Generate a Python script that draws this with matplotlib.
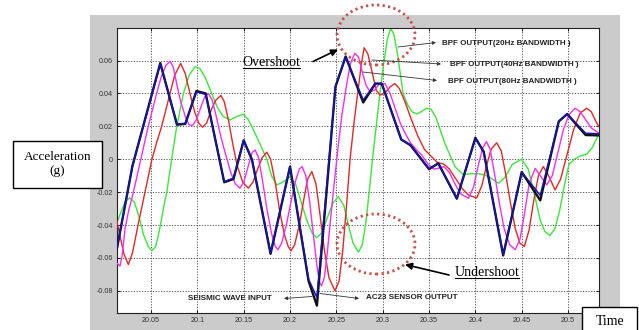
import matplotlib
matplotlib.use("Agg")
import matplotlib.pyplot as plt
from matplotlib.patches import Rectangle, Ellipse, FancyArrowPatch
from matplotlib.lines import Line2D

# ---------------- data ----------------
# seismic wave input and AC23 sensor output (sampled, piecewise linear)
t_input = [20.013, 20.03, 20.06, 20.078, 20.087, 20.099, 20.109, 20.129, 20.139,
           20.150, 20.159, 20.179, 20.200, 20.220, 20.229, 20.249, 20.260, 20.279,
           20.292, 20.299, 20.320, 20.330, 20.350, 20.360, 20.380, 20.400, 20.409,
           20.430, 20.450, 20.470, 20.490, 20.499, 20.519, 20.533]
seismic_input = [-0.055, -0.004, 0.0585, 0.021, 0.0215, 0.0415, 0.040, -0.014, -0.012,
                 0.0115, -0.0004, -0.0575, -0.0045, -0.074, -0.089, 0.044, 0.0625, 0.0345,
                 0.046, 0.046, 0.012, 0.0085, -0.006, -0.0025, -0.024, 0.013, 0.0045,
                 -0.0585, -0.0078, -0.025, 0.023, 0.0275, 0.0147, 0.0145]
ac23_output = [-0.055, -0.004, 0.058, 0.0214, 0.0218, 0.041, 0.0394, -0.0136, -0.0115,
               0.0113, -0.0004, -0.057, -0.0045, -0.073, -0.084, 0.044, 0.062, 0.036,
               0.046, 0.046, 0.012, 0.0087, -0.006, -0.0024, -0.0236, 0.0127, 0.0046,
               -0.058, -0.0078, -0.022, 0.023, 0.0275, 0.0158, 0.0155]

# band-pass filter output, 80 Hz bandwidth
t_bpf80 = [20.013, 20.0165, 20.019, 20.022, 20.026, 20.031, 20.035, 20.039, 20.043, 20.047,
           20.052, 20.056, 20.061, 20.066, 20.0705, 20.074, 20.078, 20.082, 20.087, 20.091,
           20.0946, 20.099, 20.104, 20.108, 20.112, 20.116, 20.120, 20.124, 20.128, 20.132,
           20.136, 20.141, 20.146, 20.150, 20.155, 20.159, 20.1624, 20.166, 20.170, 20.175,
           20.180, 20.184, 20.187, 20.191, 20.196, 20.201, 20.206, 20.210, 20.213, 20.217,
           20.221, 20.225, 20.229, 20.232, 20.234, 20.237, 20.240, 20.244, 20.248, 20.252,
           20.256, 20.261, 20.265, 20.270, 20.274, 20.278, 20.282, 20.2865, 20.291, 20.296,
           20.3025, 20.308, 20.314, 20.319, 20.324, 20.330, 20.336, 20.342, 20.349, 20.355,
           20.360, 20.366, 20.372, 20.378, 20.384, 20.3926, 20.398, 20.403, 20.408, 20.412,
           20.416, 20.421, 20.426, 20.431, 20.437, 20.443, 20.448, 20.453, 20.458, 20.4645,
           20.470, 20.477, 20.483, 20.489, 20.495, 20.501, 20.5075, 20.513, 20.519, 20.525,
           20.533]
bpf80 = [-0.063, -0.065, -0.058, -0.042, -0.031, -0.020, -0.010, 0.000, 0.010, 0.020,
         0.031, 0.040, 0.050, 0.057, 0.0596, 0.056, 0.045, 0.035, 0.026, 0.021,
         0.0204, 0.024, 0.032, 0.038, 0.040, 0.036, 0.027, 0.017, 0.008, 0.000,
         -0.008, -0.015, -0.0176, -0.014, -0.004, 0.004, 0.0056, 0.001, -0.012, -0.030,
         -0.045, -0.053, -0.055, -0.051, -0.040, -0.026, -0.013, -0.006, -0.0045, -0.010,
         -0.025, -0.045, -0.065, -0.075, -0.077, -0.072, -0.058, -0.035, -0.013, 0.008,
         0.027, 0.045, 0.058, 0.0645, 0.062, 0.053, 0.045, 0.041, 0.042, 0.0455,
         0.046, 0.040, 0.030, 0.022, 0.016, 0.010, 0.006, 0.0026, -0.003, -0.006,
         -0.0055, -0.0045, -0.008, -0.015, -0.021, -0.0237, -0.017, -0.004, 0.007, 0.0107,
         0.006, -0.010, -0.027, -0.042, -0.052, -0.055, -0.049, -0.033, -0.015, -0.0055,
         -0.010, -0.0156, -0.010, 0.004, 0.018, 0.027, 0.031, 0.029, 0.024, 0.019,
         0.016]

# band-pass filter output, 40 Hz bandwidth
t_bpf40 = [20.013, 20.017, 20.021, 20.0255, 20.030, 20.036, 20.0435, 20.051, 20.056, 20.0615,
           20.066, 20.0705, 20.0755, 20.082, 20.087, 20.092, 20.097, 20.1015, 20.1055, 20.110,
           20.115, 20.120, 20.1255, 20.129, 20.1335, 20.138, 20.143, 20.149, 20.155, 20.160,
           20.165, 20.170, 20.175, 20.179, 20.184, 20.189, 20.194, 20.198, 20.201, 20.205,
           20.210, 20.215, 20.219, 20.2235, 20.228, 20.232, 20.237, 20.242, 20.2485, 20.253,
           20.257, 20.261, 20.2648, 20.269, 20.273, 20.277, 20.280, 20.284, 20.289, 20.293,
           20.297, 20.302, 20.308, 20.313, 20.318, 20.324, 20.331, 20.338, 20.345, 20.352,
           20.359, 20.366, 20.372, 20.379, 20.386, 20.393, 20.4015, 20.407, 20.412, 20.417,
           20.423, 20.428, 20.433, 20.438, 20.443, 20.448, 20.4528, 20.458, 20.463, 20.468,
           20.4733, 20.479, 20.486, 20.492, 20.499, 20.506, 20.513, 20.520, 20.525, 20.530,
           20.533]
bpf40 = [-0.037, -0.048, -0.058, -0.064, -0.057, -0.040, -0.020, 0.000, 0.010, 0.020,
         0.030, 0.040, 0.051, 0.0583, 0.052, 0.040, 0.029, 0.022, 0.0195, 0.022,
         0.030, 0.036, 0.0388, 0.035, 0.024, 0.010, -0.004, -0.014, -0.0176, -0.014,
         -0.006, 0.001, 0.0043, 0.000, -0.014, -0.032, -0.046, -0.053, -0.0557, -0.052,
         -0.040, -0.024, -0.012, -0.0075, -0.015, -0.032, -0.055, -0.072, -0.080, -0.074,
         -0.055, -0.028, 0.000, 0.022, 0.040, 0.058, 0.0678, 0.064, 0.052, 0.042,
         0.039, 0.040, 0.044, 0.046, 0.043, 0.035, 0.024, 0.014, 0.006, 0.002,
         -0.002, -0.003, -0.006, -0.012, -0.018, -0.022, -0.0235, -0.016, -0.004, 0.006,
         0.010, 0.005, -0.010, -0.027, -0.042, -0.051, -0.0531, -0.043, -0.025, -0.010,
         -0.0045, -0.010, -0.0187, -0.012, 0.003, 0.018, 0.028, 0.031, 0.029, 0.023,
         0.020]

# band-pass filter output, 20 Hz bandwidth
t_bpf20 = [20.013, 20.017, 20.022, 20.027, 20.032, 20.037, 20.042, 20.047, 20.051, 20.055,
           20.058, 20.0615, 20.064, 20.067, 20.0723, 20.0778, 20.085, 20.091, 20.0975, 20.103,
           20.109, 20.1155, 20.122, 20.128, 20.1352, 20.1425, 20.1496, 20.155, 20.1587, 20.167,
           20.175, 20.180, 20.1857, 20.192, 20.200, 20.206, 20.212, 20.218, 20.224, 20.2288,
           20.234, 20.240, 20.246, 20.2521, 20.258, 20.263, 20.268, 20.2738, 20.278, 20.282,
           20.285, 20.289, 20.293, 20.297, 20.301, 20.305, 20.3087, 20.312, 20.316, 20.319,
           20.322, 20.327, 20.3315, 20.3367, 20.342, 20.347, 20.352, 20.357, 20.362, 20.367,
           20.373, 20.378, 20.387, 20.395, 20.403, 20.410, 20.418, 20.425, 20.432, 20.440,
           20.450, 20.457, 20.464, 20.470, 20.475, 20.4805, 20.486, 20.491, 20.496, 20.501,
           20.507, 20.513, 20.520, 20.526, 20.533]
bpf20 = [-0.039, -0.033, -0.026, -0.0235, -0.026, -0.035, -0.046, -0.053, -0.0557, -0.053,
         -0.046, -0.036, -0.028, -0.020, 0.000, 0.020, 0.040, 0.051, 0.0563, 0.055,
         0.049, 0.040, 0.031, 0.026, 0.0239, 0.026, 0.0274, 0.024, 0.020, 0.010,
         0.000, -0.010, -0.0156, -0.014, -0.0106, -0.015, -0.026, -0.037, -0.045, -0.0477,
         -0.045, -0.036, -0.027, -0.0227, -0.028, -0.040, -0.051, -0.0565, -0.052, -0.038,
         -0.022, 0.000, 0.020, 0.040, 0.058, 0.073, 0.0796, 0.076, 0.064, 0.052,
         0.040, 0.033, 0.029, 0.0275, 0.029, 0.031, 0.0305, 0.026, 0.018, 0.0097,
         0.002, -0.0045, -0.0095, -0.0088, -0.0088, -0.0095, -0.012, -0.0146, -0.011, -0.003,
         0.000, -0.006, -0.022, -0.037, -0.044, -0.0464, -0.042, -0.031, -0.016, -0.003,
         0.000, 0.002, 0.003, 0.007, 0.015]

x_ticks = [20.05, 20.1, 20.15, 20.2, 20.25, 20.3, 20.35, 20.4, 20.45, 20.5]
x_tick_labels = ["20.05", "20.1", "20.15", "20.2", "20.25", "20.3", "20.35", "20.4", "20.45", "20.5"]
y_ticks = [-0.08, -0.06, -0.04, -0.02, 0, 0.02, 0.04, 0.06]
y_tick_labels = ["-0.08", "-0.06", "-0.04", "-0.02", "0", "0.02", "0.04", "0.06"]

# ---------------- figure ----------------
W, H = 639, 330
fig = plt.figure(figsize=(W / 100, H / 100), dpi=100, facecolor="white")


def fx(x):
    return x / W


def fy(y):
    return 1 - y / H


SANS = "Liberation Sans"
SERIF = "Liberation Serif"

# grey figure panel behind the axes
fig.patches.append(Rectangle((fx(90), fy(332)), fx(620) - fx(90), fy(15) - fy(332),
                             transform=fig.transFigure, facecolor="#cbcbcb",
                             edgecolor="none", zorder=0))

ax = fig.add_axes([fx(117), fy(313), fx(599) - fx(117), fy(28) - fy(313)])
ax.set_facecolor("white")
ax.set_zorder(1)

ax.plot(t_bpf20, bpf20, color="#3ce63c", lw=1.0, zorder=2)
ax.plot(t_bpf40, bpf40, color="#e02828", lw=1.0, zorder=3)
ax.plot(t_bpf80, bpf80, color="#f030f0", lw=1.0, zorder=4)
ax.plot(t_input, seismic_input, color="#101010", lw=1.7, zorder=5)
ax.plot(t_input, ac23_output, color="#1414b4", lw=1.1, zorder=6)

ax.set_xlim(20.0133, 20.5334)
ax.set_ylim(-0.0935, 0.0798)
ax.set_xticks(x_ticks)
ax.set_xticklabels(x_tick_labels)
ax.set_yticks(y_ticks)
ax.set_yticklabels(y_tick_labels)
ax.tick_params(direction="in", length=2.5, width=0.6, labelsize=5.2, pad=3,
               top=True, right=True, labelcolor="#333333")
for lab in ax.get_xticklabels() + ax.get_yticklabels():
    lab.set_fontfamily(SANS)
ax.grid(True, color="#555555", linestyle=(0, (1.2, 1.6)), linewidth=0.7)
for sp in ax.spines.values():
    sp.set_linewidth(0.8)
    sp.set_color("#222222")

# ---------------- annotations (figure pixel space) ----------------
def arrow(x0, y0, x1, y1, lw, scale, color):
    a = FancyArrowPatch((fx(x0), fy(y0)), (fx(x1), fy(y1)), transform=fig.transFigure,
                        arrowstyle="-|>", mutation_scale=scale, lw=lw, color=color,
                        shrinkA=0, shrinkB=0, zorder=10)
    fig.patches.append(a)


def label(x, y, s, **kw):
    return fig.text(fx(x), fy(y), s, ha="center", va="center", zorder=11, **kw)


bold = dict(fontfamily=SANS, fontweight="bold", fontsize=5.8, color="#222222")
label(506, 43.5, "BPF OUTPUT(20Hz BANDWIDTH )", **bold)
label(514.5, 64, "BPF OUTPUT(40Hz BANDWIDTH )", **bold)
label(512, 81.5, "BPF OUTPUT(80Hz BANDWIDTH )", **bold)
arrow(398, 47, 436, 42.5, 0.6, 5, "#333333")
arrow(372, 60, 441, 64, 0.6, 5, "#333333")
arrow(363, 72, 437, 80.5, 0.6, 5, "#333333")

label(229.5, 298.5, "SEISMIC WAVE INPUT", **bold)
label(411.5, 297.5, "AC23 SENSOR OUTPUT", **bold)
arrow(312, 296.5, 284, 298.5, 0.6, 5, "#333333")
arrow(320, 293.5, 359, 298.5, 0.6, 5, "#333333")

# dotted rings marking overshoot and undershoot
for cy in (35, 244):
    fig.patches.append(Ellipse((fx(376), fy(cy)), fx(78), 60 / H, transform=fig.transFigure,
                               fill=False, edgecolor="#c8504a", lw=2.0,
                               linestyle=(0, (0.8, 1.2)), zorder=9))

over = label(271.5, 63, "Overshoot", fontfamily=SERIF, fontsize=10, color="black")
under = label(487, 273, "Undershoot", fontfamily=SERIF, fontsize=10, color="black")
arrow(313, 61.5, 338, 49.5, 1.2, 10, "black")
arrow(449, 275, 405, 264.5, 1.2, 10, "black")

# axis title boxes
fig.patches.append(Rectangle((fx(13), fy(187.5)), fx(102) - fx(13), fy(141) - fy(187.5),
                             transform=fig.transFigure, facecolor="white",
                             edgecolor="black", lw=1.0, zorder=10))
label(57.5, 164, "Acceleration\n(g)", fontfamily=SERIF, fontsize=9.5, color="black",
      linespacing=1.25)
fig.patches.append(Rectangle((fx(582), fy(340)), fx(637) - fx(582), fy(307) - fy(340),
                             transform=fig.transFigure, facecolor="white",
                             edgecolor="black", lw=1.0, zorder=10))
label(610, 321.5, "Time", fontfamily=SERIF, fontsize=10, color="black")

# underline the Overshoot / Undershoot captions
fig.canvas.draw()
renderer = fig.canvas.get_renderer()
for t in (over, under):
    bb = t.get_window_extent(renderer)
    inv = fig.transFigure.inverted()
    (x0, y0), (x1, y1) = inv.transform([(bb.x0, bb.y0), (bb.x1, bb.y0)])
    fig.lines.append(Line2D([x0, x1], [y0 + 0.004, y1 + 0.004], transform=fig.transFigure,
                            color="black", lw=0.8, zorder=11))

fig.savefig("out.png", dpi=100, facecolor="white")
